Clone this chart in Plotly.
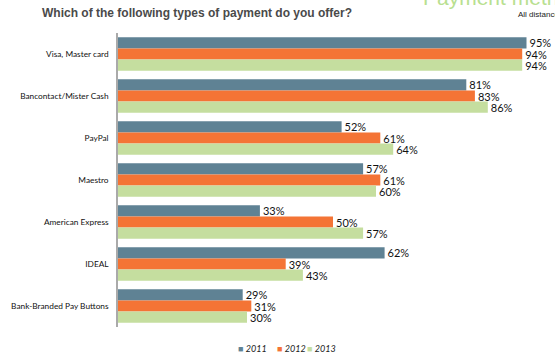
import plotly.graph_objects as go

categories = ["Visa, Master card", "Bancontact/Mister Cash", "PayPal", "Maestro",
              "American Express", "IDEAL", "Bank-Branded Pay Buttons"]
years = ["2011", "2012", "2013"]
v2011 = [95, 81, 52, 57, 33, 62, 29]
v2012 = [94, 83, 61, 61, 50, 39, 31]
v2013 = [94, 86, 64, 60, 57, 43, 30]
colors = ["#5F8294", "#F47435", "#C5DE9F"]

W, H = 555, 356
L, R, T, B = 118, 7, 33, 29
pw, ph = W - L - R, H - T - B

def px(x, y):
    return (x - L) / pw, 1 + (T - y) / ph

fig = go.Figure()
for name, vals, col in zip(years, [v2011, v2012, v2013], colors):
    fig.add_trace(go.Bar(
        y=categories, x=vals, name=name, orientation="h",
        marker=dict(color=col, line=dict(width=0)),
        text=[f"{v}%" for v in vals], textposition="outside",
        constraintext="none",
        textfont=dict(family="Lato", size=11, color="#111"),
        cliponaxis=False, showlegend=False,
    ))

annotations = []
def ann(text, x, y, xanchor="left", yanchor="middle", **font):
    ax, ay = px(x, y)
    annotations.append(dict(text=text, x=ax, y=ay, xref="paper", yref="paper",
                            showarrow=False, xanchor=xanchor, yanchor=yanchor,
                            font=font))

ann("<b>Which of the following types of payment do you offer?</b>", 40, 13,
    family="Liberation Sans", size=12, color="#4a4a4a")
ann("All distances", 516, 15, family="Liberation Sans", size=8, color="#222")
ann("Payment methods", 421, 11, yanchor="bottom",
    family="Liberation Sans", size=21, color="#B8E090")

# legend built from the series names and colours
legend_x = [236, 275, 305]
for name, col, lx in zip(years, colors, legend_x):
    ann(f'<span style="color:{col}">■</span> <i>{name}</i>', lx, 348,
        family="Lato", size=9, color="#222")

fig.update_layout(
    width=W, height=H,
    margin=dict(l=L, r=R, t=T, b=B, autoexpand=False),
    paper_bgcolor="white", plot_bgcolor="white",
    barmode="group", bargap=0.2, bargroupgap=0,
    showlegend=False,
    xaxis=dict(range=[0, 100], visible=False, fixedrange=True),
    yaxis=dict(autorange="reversed", showline=True, linecolor="#aaaaaa", linewidth=1.5,
               ticks="", showgrid=False, automargin=False,
               tickfont=dict(family="Lato", size=8.3, color="#111"),
               ticklabelstandoff=6),
    annotations=annotations,
)
fig.write_html("out.html", config={"displayModeBar": False},
               post_script="document.body.style.margin='0';")
